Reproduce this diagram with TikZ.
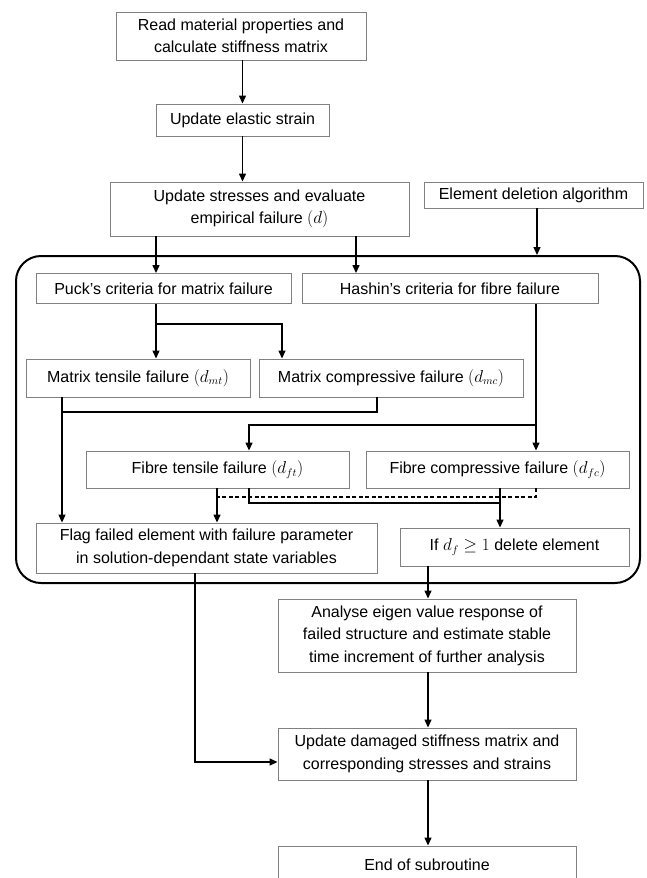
\documentclass[tikz,border=0pt]{standalone}
\usepackage{fontspec}
\setmainfont{Liberation Sans}
\usetikzlibrary{arrows.meta}
\tikzset{
  box/.style={draw=black!50, line width=0.9pt, align=center, inner sep=0pt,
    font=\fontsize{16}{22.5}\selectfont},
  arr/.style={line width=1.3pt, -{Triangle[length=8pt,width=7pt]}},
  ln/.style={line width=1.3pt},
  dln/.style={line width=1.3pt, dash pattern=on 4pt off 2.5pt},
  frame/.style={draw=black, line width=2pt, rounded corners=25pt, inner sep=0pt}
}
\begin{document}
\begin{tikzpicture}[x=1pt,y=-1pt]
\useasboundingbox (0,0) rectangle (646,878);
\clip (0,0) rectangle (646,878);
% container
\node[frame, minimum width=624pt, minimum height=327pt] (cont) at (328,419.5) {};
% boxes
\node[box, minimum width=250pt, minimum height=48pt] (b1) at (241,36) {Read material properties and\\calculate stiffness matrix};
\node[box, minimum width=173pt, minimum height=32pt] (b2) at (242.5,120) {Update elastic strain};
\node[box, minimum width=299pt, minimum height=54pt] (b3) at (259.5,209) {Update stresses and evaluate\\empirical failure $(d)$};
\node[box, minimum width=219pt, minimum height=26pt] (bel) at (533.5,195) {Element deletion algorithm};
\node[box, minimum width=255pt, minimum height=30pt] (puck) at (163.5,288.5) {Puck's criteria for matrix failure};
\node[box, minimum width=296pt, minimum height=30pt] (hash) at (450,288.5) {Hashin's criteria for fibre failure};
\node[box, minimum width=224pt, minimum height=38pt] (mt) at (138,378) {Matrix tensile failure $(d_{mt})$};
\node[box, minimum width=264pt, minimum height=38pt] (mc) at (391,378) {Matrix compressive failure $(d_{mc})$};
\node[box, minimum width=263pt, minimum height=37pt] (ft) at (217.5,469.5) {Fibre tensile failure $(d_{ft})$};
\node[box, minimum width=263pt, minimum height=37pt] (fc) at (497.5,469.5) {Fibre compressive failure $(d_{fc})$};
\node[box, minimum width=341pt, minimum height=50pt] (flag) at (206.5,548) {Flag failed element with failure parameter\\in solution-dependant state variables};
\node[box, minimum width=229pt, minimum height=38pt] (ifb) at (514.5,547) {If $d_f \geq 1$ delete element};
\node[box, minimum width=298pt, minimum height=73pt] (an) at (427,635.5) {Analyse eigen value response of\\failed structure and estimate stable\\time increment of further analysis};
\node[box, minimum width=298pt, minimum height=52pt] (upd) at (427,754) {Update damaged stiffness matrix and\\corresponding stresses and strains};
\node[box, minimum width=298pt, minimum height=38pt] (endb) at (427,865) {End of subroutine};
% helper coordinates
\coordinate (xA) at (156,0);
\coordinate (xB) at (356,0);
\coordinate (xC) at (537,0);
\coordinate (xD) at (282,0);
\coordinate (xE) at (62,0);
\coordinate (xF) at (377,0);
\coordinate (xG) at (536,0);
\coordinate (xH) at (249,0);
\coordinate (xI) at (217,0);
\coordinate (xJ) at (500,0);
\coordinate (xL) at (428,0);
\coordinate (j1) at (156,324);
\coordinate (j2) at (62,412);
\coordinate (j3) at (536,425);
\coordinate (j4) at (500,503);
\coordinate (j5) at (217,497);
\coordinate (j6) at (195,762);
% connectors
\draw[arr] (b1.south -| b2) -- (b2.north);
\draw[arr] (b2.south) -- (b2.south |- b3.north);
\draw[arr] (b3.south -| xA) -- (puck.north -| xA);
\draw[arr] (b3.south -| xB) -- (hash.north -| xB);
\draw[arr] (bel.south -| xC) -- (cont.north -| xC);
\draw[arr] (puck.south -| xA) -- (mt.north -| xA);
\draw[arr] (j1) -| (mc.north -| xD);
\draw[arr] (mt.south -| xE) -- (flag.north -| xE);
\draw[ln] (mc.south -| xF) |- (j2);
\draw[arr] (hash.south -| xG) -- (fc.north -| xG);
\draw[arr] (j3) -| (ft.north -| xH);
\draw[arr] (ft.south -| xI) -- (flag.north -| xI);
\draw[ln] (ft.south -| xH) |- (j4);
\draw[arr] (fc.south -| xJ) -- (ifb.north -| xJ);
\draw[dln] (fc.south -| xG) |- (j5);
\draw[arr] (flag.south -| j6) -- (j6) -- (upd.west |- j6);
\draw[arr] (ifb.south -| xL) -- (an.north -| xL);
\draw[arr] (an.south -| xL) -- (upd.north -| xL);
\draw[arr] (upd.south -| xL) -- (endb.north -| xL);
\end{tikzpicture}
\end{document}
